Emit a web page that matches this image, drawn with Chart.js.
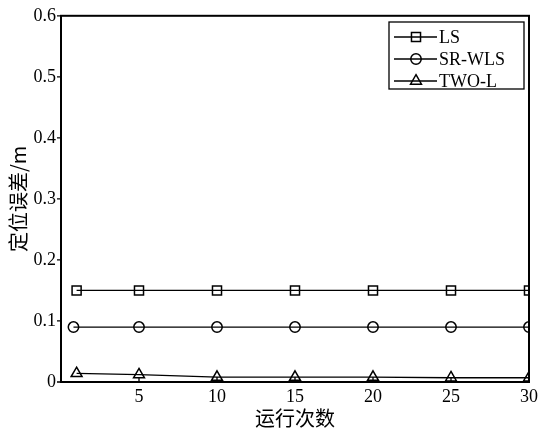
<!DOCTYPE html>
<html>
<head>
<meta charset="utf-8">
<script src="https://cdn.jsdelivr.net/npm/chart.js@4.4.1/dist/chart.umd.min.js"></script>
<style>
  html, body { margin: 0; padding: 0; background: #fff; }
  #wrap { width: 542px; height: 432px; }
</style>
</head>
<body>
<div id="wrap"><canvas id="c" width="542" height="432"></canvas></div>
<script>
// Run counts and positioning error per method
const runs = [1, 5, 10, 15, 20, 25, 30];
const runsSR = [0.8, 5, 10, 15, 20, 25, 30];
const lsError = [0.15, 0.15, 0.15, 0.15, 0.15, 0.15, 0.15];
const srWlsError = [0.09, 0.09, 0.09, 0.09, 0.09, 0.09, 0.09];
const twoLError = [0.014, 0.012, 0.008, 0.008, 0.008, 0.007, 0.007];
const seriesNames = ['LS', 'SR-WLS', 'TWO-L'];
const xTitle = '运行次数';
const yTitle = '定位误差/m';

const serif = "'Liberation Serif', 'Times New Roman', serif";
const cjk = "'Noto Sans CJK SC', sans-serif";

function pts(xs, ys) { return xs.map((x, i) => ({ x: x, y: ys[i] })); }

const common = {
  borderColor: '#000', backgroundColor: '#fff', pointBackgroundColor: 'rgba(255,255,255,0)',
  pointBorderColor: '#000', borderWidth: 1.3, pointBorderWidth: 1.5, showLine: true, tension: 0
};

// Frame around plot area, inward x ticks, outward y ticks, and a boxed legend
const framePlugin = {
  id: 'frame',
  afterDraw(chart) {
    const ctx = chart.ctx, a = chart.chartArea;
    const xs = chart.scales.x, ys = chart.scales.y;
    ctx.save();
    ctx.strokeStyle = '#000';
    ctx.lineWidth = 2;
    ctx.strokeRect(a.left, a.top, a.right - a.left, a.bottom - a.top);
    ctx.lineWidth = 1.3;
    ctx.beginPath();
    xs.ticks.forEach(t => {
      const px = xs.getPixelForValue(t.value);
      ctx.moveTo(px, a.bottom); ctx.lineTo(px, a.bottom - 5);
    });
    ys.ticks.forEach(t => {
      const py = ys.getPixelForValue(t.value);
      ctx.moveTo(a.left - 4, py); ctx.lineTo(a.left, py);
    });
    ctx.stroke();

    // legend
    const lx = 389, ly = 22, lw = 135, lh = 67;
    ctx.lineWidth = 1.3;
    ctx.fillStyle = '#fff';
    ctx.fillRect(lx, ly, lw, lh);
    ctx.strokeRect(lx, ly, lw, lh);
    ctx.font = '18px ' + serif;
    ctx.textBaseline = 'middle';
    chart.data.datasets.forEach((ds, i) => {
      const y = ly + 15 + i * 22;
      ctx.strokeStyle = '#000';
      ctx.lineWidth = 1.3;
      ctx.beginPath(); ctx.moveTo(lx + 5, y); ctx.lineTo(lx + 48, y); ctx.stroke();
      ctx.lineWidth = 1.5;
      ctx.fillStyle = 'rgba(255,255,255,0)';
      Chart.helpers.drawPoint(ctx, { pointStyle: ds.pointStyle, radius: ds.pointRadius, rotation: 0, borderWidth: 1.5 }, lx + 27, y);
      ctx.fillStyle = '#000';
      ctx.fillText(ds.label, lx + 50, y + 1);
    });
    ctx.restore();
  }
};

new Chart(document.getElementById('c'), {
  type: 'scatter',
  data: {
    datasets: [
      Object.assign({}, common, { label: seriesNames[0], data: pts(runs, lsError), pointStyle: 'rect', pointRadius: 6.4 }),
      Object.assign({}, common, { label: seriesNames[1], data: pts(runsSR, srWlsError), pointStyle: 'circle', pointRadius: 5.2 }),
      Object.assign({}, common, { label: seriesNames[2], data: pts(runs, twoLError), pointStyle: 'triangle', pointRadius: 6.3 })
    ]
  },
  options: {
    responsive: false,
    animation: false,
    devicePixelRatio: 1,
    layout: { padding: { top: 15, right: 12, left: 6, bottom: 0 } },
    plugins: { legend: { display: false }, tooltip: { enabled: false } },
    scales: {
      x: {
        type: 'linear', min: 0, max: 30,
        grid: { display: false, drawTicks: false },
        border: { display: false },
        ticks: {
          stepSize: 5, padding: 4, color: '#000',
          font: { family: serif, size: 18 },
          callback: v => (v === 0 ? '' : String(v))
        },
        title: { display: true, text: xTitle, color: '#000', font: { family: cjk, size: 20 }, padding: { top: 0, bottom: 2 } },
        afterFit: s => { s.height = 50; }
      },
      y: {
        min: 0, max: 0.6,
        grid: { display: false, drawTicks: false },
        border: { display: false },
        ticks: {
          stepSize: 0.1, padding: 5, color: '#000',
          font: { family: serif, size: 18 },
          callback: v => (Math.abs(v) < 1e-9 ? '0' : v.toFixed(1))
        },
        title: { display: true, text: yTitle, color: '#000', font: { family: cjk, size: 20 }, padding: { top: 0, bottom: 0 } },
        afterFit: s => { s.width = 55; }
      }
    }
  },
  plugins: [framePlugin]
});
</script>
</body>
</html>
